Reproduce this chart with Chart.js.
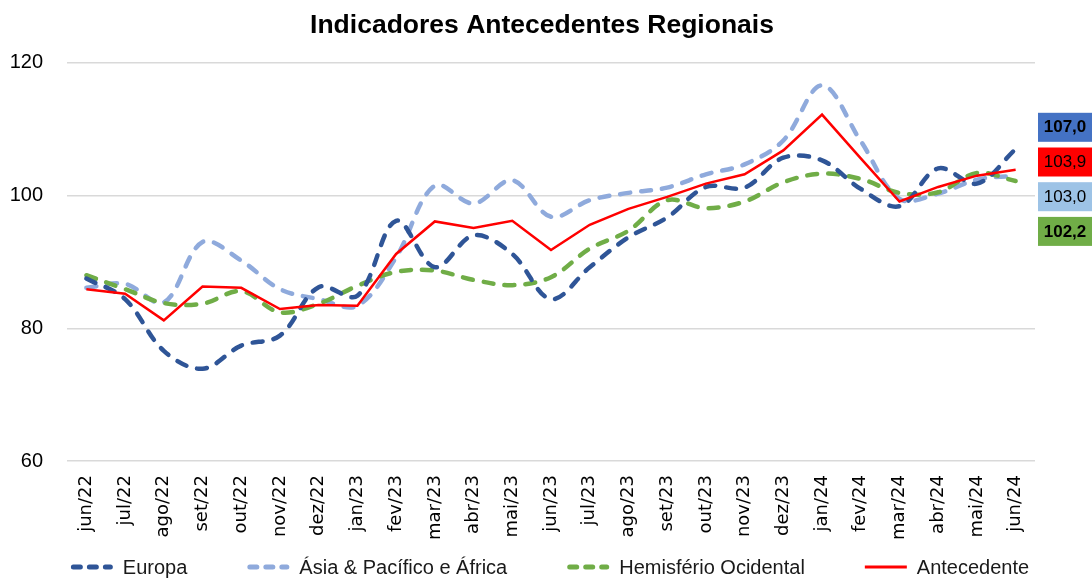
<!DOCTYPE html>
<html>
<head>
<meta charset="utf-8">
<script src="https://cdn.jsdelivr.net/npm/chart.js@4.4.1/dist/chart.umd.min.js"></script>
<style>
  html, body { margin: 0; padding: 0; background: #fff; }
  #wrap { width: 1092px; height: 579px; }
</style>
</head>
<body>
<div id="wrap"><canvas id="chart" width="1092" height="579"></canvas></div>
<script>
const months = [
  "jun/22", "jul/22", "ago/22", "set/22", "out/22", "nov/22", "dez/22",
  "jan/23", "fev/23", "mar/23", "abr/23", "mai/23", "jun/23", "jul/23",
  "ago/23", "set/23", "out/23", "nov/23", "dez/23", "jan/24", "fev/24",
  "mar/24", "abr/24", "mai/24", "jun/24",
];

const europa = [
  87.5, 84.4, 76.6, 73.9, 77.4, 78.9, 86.2, 84.9, 96.2, 89.2, 94.0, 91.2, 84.4,
  89.2, 93.7, 96.7, 101.3, 101.2, 105.7, 105.3, 101.0, 98.4, 104.1, 101.8, 107.0,
];

const asiaPacificoAfrica = [
  86.1, 86.7, 83.9, 93.0, 90.2, 85.9, 84.4, 83.4, 90.7, 101.5, 98.8, 102.3, 96.8,
  99.3, 100.4, 101.2, 103.2, 104.7, 108.3, 116.6, 108.2, 99.5, 100.3, 102.4, 103.0,
];

const hemisferioOcidental = [
  88.0, 85.9, 83.8, 83.7, 85.6, 82.4, 83.7, 86.4, 88.5, 88.7, 87.3, 86.5, 87.7,
  92.0, 94.7, 99.3, 98.1, 99.1, 102.0, 103.3, 102.5, 100.4, 100.5, 103.4, 102.2,
];

const antecedente = [
  85.9, 85.2, 81.2, 86.3, 86.1, 82.9, 83.5, 83.4, 91.2, 96.1, 95.1, 96.2, 91.8,
  95.6, 98.0, 99.8, 101.8, 103.2, 106.8, 112.2, 105.6, 99.1, 101.3, 103.0, 103.9,
];

const yTicks = [60, 80, 100, 120];

function formatValue(value) {
  return value.toFixed(1).replace(".", ",");
}

// boxes on the right with the last value of each series
const endValueBoxes = {
  id: "endValueBoxes",
  afterDraw(chart) {
    const { ctx, chartArea } = chart;
    const boxes = chart.data.datasets
      .map((ds) => ({
        value: ds.data[ds.data.length - 1],
        fill: ds.boxColor,
        weight: ds.boxWeight,
      }))
      .sort((a, b) => b.value - a.value);

    ctx.save();
    ctx.textAlign = "center";
    ctx.textBaseline = "middle";
    boxes.forEach((box, i) => {
      const top = chartArea.top + 50 + i * 34.7;
      ctx.fillStyle = box.fill;
      ctx.fillRect(1038, top, 54, 29);
      ctx.fillStyle = "#000";
      ctx.font = `${box.weight} 17px "Liberation Sans", Arial, sans-serif`;
      ctx.fillText(formatValue(box.value), 1065, top + 15);
    });
    ctx.restore();
  },
};

// legend drawn along the bottom, with dashed samples like the series
const bottomLegend = {
  id: "bottomLegend",
  afterDraw(chart) {
    const { ctx } = chart;
    const markW = 42;
    const markGap = 10;
    const itemGap = 60;
    const y = 567;

    ctx.save();
    ctx.font = '20px "Liberation Sans", Arial, sans-serif';
    const items = chart.data.datasets.map((ds) => ({
      ds,
      w: ctx.measureText(ds.label).width,
    }));
    const total =
      items.reduce((s, it) => s + markW + markGap + it.w, 0) +
      itemGap * (items.length - 1);
    let x = 550 - total / 2;

    items.forEach(({ ds, w }) => {
      ctx.beginPath();
      ctx.strokeStyle = ds.borderColor;
      if (ds.borderDash) {
        ctx.lineWidth = 5;
        ctx.lineCap = "round";
        ctx.setLineDash([7, 9]);
        ctx.moveTo(x + 2.5, y);
        ctx.lineTo(x + markW - 2.5, y);
      } else {
        ctx.lineWidth = 3;
        ctx.lineCap = "butt";
        ctx.setLineDash([]);
        ctx.moveTo(x, y);
        ctx.lineTo(x + markW, y);
      }
      ctx.stroke();
      ctx.setLineDash([]);

      ctx.fillStyle = "#1a1a1a";
      ctx.textAlign = "left";
      ctx.textBaseline = "middle";
      ctx.fillText(ds.label, x + markW + markGap, y + 1);
      x += markW + markGap + w + itemGap;
    });
    ctx.restore();
  },
};

const dashed = {
  borderWidth: 4.5,
  borderDash: [10, 11],
  borderCapStyle: "round",
  pointRadius: 0,
  pointHoverRadius: 0,
  tension: 0.35,
  fill: false,
};

new Chart(document.getElementById("chart"), {
  type: "line",
  data: {
    labels: months,
    datasets: [
      {
        ...dashed,
        label: "Europa",
        data: europa,
        borderColor: "#2F5597",
        boxColor: "#4472C4",
        boxWeight: "bold",
        order: 1,
      },
      {
        ...dashed,
        label: "Ásia & Pacífico e África",
        data: asiaPacificoAfrica,
        borderColor: "#8FAADC",
        boxColor: "#9DC3E6",
        boxWeight: "normal",
        order: 3,
      },
      {
        ...dashed,
        label: "Hemisfério Ocidental",
        data: hemisferioOcidental,
        borderColor: "#70AD47",
        boxColor: "#70AD47",
        boxWeight: "bold",
        order: 2,
      },
      {
        label: "Antecedente",
        data: antecedente,
        borderColor: "#FF0000",
        borderWidth: 2.5,
        pointRadius: 0,
        pointHoverRadius: 0,
        tension: 0,
        fill: false,
        boxColor: "#FF0000",
        boxWeight: "normal",
        order: 0,
      },
    ],
  },
  options: {
    responsive: false,
    animation: false,
    devicePixelRatio: 1,
    layout: {
      padding: { left: 0, right: 8, top: 0, bottom: 25 },
    },
    scales: {
      x: {
        offset: true,
        grid: { display: false, drawTicks: false },
        border: { display: false },
        ticks: {
          autoSkip: false,
          minRotation: 90,
          maxRotation: 90,
          padding: 14,
          color: "#000",
          font: { family: '"DejaVu Sans", sans-serif', size: 18 },
        },
      },
      y: {
        min: yTicks[0],
        max: yTicks[yTicks.length - 1],
        afterBuildTicks: (axis) => {
          axis.ticks = yTicks.map((v) => ({ value: v }));
        },
        afterFit: (axis) => {
          axis.width = 67;
        },
        grid: { color: "#D9D9D9", lineWidth: 1.5, drawTicks: false },
        border: { display: false },
        ticks: {
          padding: 24,
          color: "#000",
          font: { family: '"Liberation Sans", Arial, sans-serif', size: 20 },
        },
      },
      // empty right axis: keeps room for the value boxes
      yRight: {
        position: "right",
        grid: { display: false, drawTicks: false },
        border: { display: false },
        ticks: { display: false },
        afterFit: (axis) => {
          axis.width = 49;
        },
      },
    },
    plugins: {
      legend: { display: false },
      tooltip: { enabled: false },
      title: {
        display: true,
        text: "Indicadores Antecedentes Regionais",
        color: "#000",
        font: { family: '"Liberation Sans", Arial, sans-serif', size: 26.5, weight: "bold" },
        padding: { top: 10, bottom: 21 },
      },
    },
  },
  plugins: [endValueBoxes, bottomLegend],
});
</script>
</body>
</html>
